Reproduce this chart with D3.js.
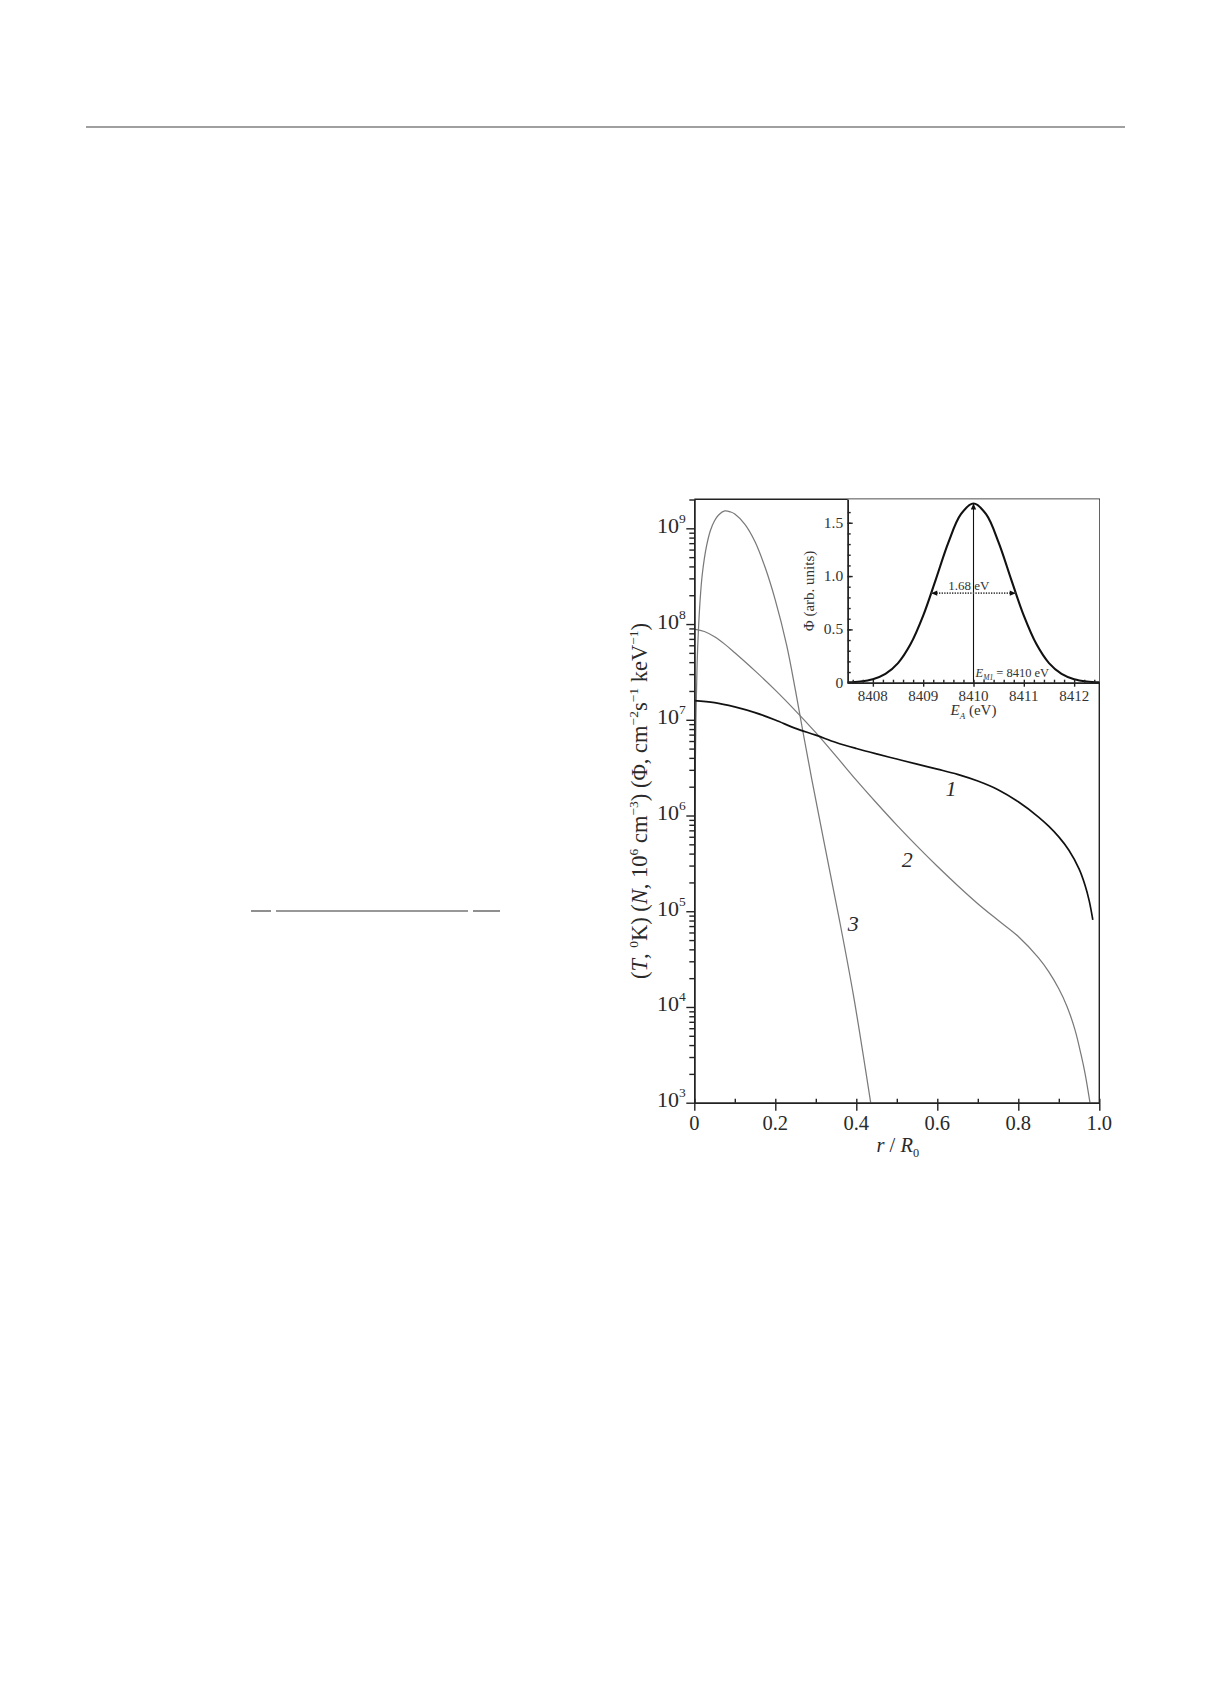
<!DOCTYPE html>
<html><head><meta charset="utf-8">
<script src="https://cdn.jsdelivr.net/npm/d3@7"></script>
<style>body{margin:0;background:#fff} svg{display:block}</style>
</head><body>
<svg id="c" width="1211" height="1683"></svg>
<script>
// ---------------- data ----------------
const r1 = [0,0.05,0.1,0.15,0.2,0.25,0.3,0.35,0.4,0.45,0.5,0.55,0.6,0.65,0.7,0.75,0.8,0.85,0.875,0.9,0.925,0.95,0.965,0.975,0.984];
const v1 = [1.585e7,1.514e7,1.365e7,1.189e7,9.95e6,8.13e6,6.92e6,5.79e6,5.01e6,4.40e6,3.89e6,3.44e6,3.05e6,2.69e6,2.29e6,1.86e6,1.39e6,9.64e5,7.74e5,5.98e5,4.34e5,2.77e5,1.86e5,1.29e5,8.13e4];

const r2 = [0,0.025,0.05,0.075,0.1,0.15,0.2,0.25,0.3,0.35,0.4,0.45,0.5,0.55,0.6,0.65,0.7,0.75,0.8,0.85,0.875,0.9,0.92,0.94,0.955,0.965,0.977];
const v2 = [8.85e7,8.36e7,7.36e7,6.17e7,5.01e7,3.24e7,2.04e7,1.24e7,7.33e6,4.17e6,2.34e6,1.35e6,7.94e5,4.79e5,2.95e5,1.86e5,1.20e5,8.05e4,5.45e4,3.26e4,2.34e4,1.55e4,1.02e4,5.77e3,3.17e3,2.0e3,1.0e3];

const r3 = [0.001,0.002,0.004,0.007,0.01,0.015,0.02,0.03,0.04,0.05,0.06,0.075,0.09,0.1,0.125,0.15,0.175,0.2,0.228,0.25,0.268,0.29,0.32,0.356,0.393,0.4355];
const v3 = [3.98e5,1.95e6,1.0e7,3.89e7,8.32e7,1.95e8,3.39e8,6.46e8,9.55e8,1.20e9,1.38e9,1.52e9,1.48e9,1.41e9,1.10e9,7.24e8,3.89e8,1.78e8,6.03e7,2.00e7,7.59e6,2.40e6,5.37e5,9.12e4,1.32e4,1.0e3];

const curveLabelText = ["1","2","3"];
const curveLabelR = [0.634,0.526,0.3926];
const curveLabelV = [1.89e6,3.47e5,7.36e4];

const xMajorTicks = [0,0.2,0.4,0.6,0.8,1.0];
const xTickLabels = ["0","0.2","0.4","0.6","0.8","1.0"];
const xMinorTicks = [0.1,0.3,0.5,0.7,0.9];
const yMajorTicks = [1e3,1e4,1e5,1e6,1e7,1e8,1e9];
const yTickExponents = ["3","4","5","6","7","8","9"];

// inset: spectrum
const insetE = [8407.5,8407.75,8408,8408.25,8408.5,8408.75,8409,8409.25,8409.5,8409.75,8410,8410.25,8410.5,8410.75,8411,8411.25,8411.5,8411.75,8412,8412.25,8412.5];
const insetPhi = [0.0036,0.0116,0.033,0.083,0.184,0.362,0.629,0.967,1.314,1.580,1.68,1.580,1.314,0.967,0.629,0.362,0.184,0.083,0.033,0.0116,0.0036];
const insetXTicks = [8408,8409,8410,8411,8412];
const insetXTickLabels = ["8408","8409","8410","8411","8412"];
const insetYTicks = [0,0.5,1.0,1.5];
const insetYTickLabels = ["0","0.5","1.0","1.5"];
const peakE = [8410];
const peakPhi = [1.68];
const fwhmE = [8409.16,8410.84];
const fwhmLevel = [0.84];

// ---------------- layout ----------------
const svg = d3.select("#c");
const FONT = "'Liberation Serif','Times New Roman',serif";
const M = {left:694.3, right:1099.3, top:499.3, bottom:1102.7};
const I = {left:847.7, right:1099.3, top:499.3, bottom:682.7};

const x = d3.scaleLinear().domain([0,1]).range([M.left, M.right]);
const y = d3.scaleLog().domain([1e3, 2.01e9]).range([M.bottom, M.top]);
const xi = d3.scaleLinear().domain([8407.5, 8412.5]).range([I.left, I.right]);
const yi = d3.scaleLinear().domain([0, 1.72]).range([I.bottom, I.top]);

// page decorations
svg.append("line").attr("x1",86).attr("x2",1125).attr("y1",127).attr("y2",127)
  .attr("stroke","#808080").attr("stroke-width",1.4);
[[251,271],[276,468],[473,500]].forEach(s=>{
  svg.append("line").attr("x1",s[0]).attr("x2",s[1]).attr("y1",911).attr("y2",911)
    .attr("stroke","#333").attr("stroke-width",1.1);
});

function rich(textSel, parts, base) {
  let shift = 0;
  parts.forEach(([t, s]) => {
    const ts = textSel.append("tspan").text(t);
    let target = 0;
    if (s === "sup") { ts.attr("font-size", base*0.6); target = -base*0.42; }
    else if (s === "sub" || s === "isub") { ts.attr("font-size", base*0.6); target = base*0.25; }
    if (s === "i" || s === "isub") ts.attr("font-style","italic");
    const dy = target - shift;
    if (Math.abs(dy) > 1e-6) ts.attr("dy", dy);
    shift = target;
  });
}

const defs = svg.append("defs");
defs.append("clipPath").attr("id","clipMain").append("rect")
  .attr("x",M.left).attr("y",M.top).attr("width",M.right-M.left).attr("height",M.bottom-M.top);
defs.append("marker").attr("id","ah").attr("viewBox","0 0 10 10").attr("refX",10).attr("refY",5)
  .attr("markerUnits","userSpaceOnUse").attr("markerWidth",7).attr("markerHeight",6)
  .attr("orient","auto-start-reverse")
  .append("path").attr("d","M0,0.5L10,5L0,9.5z").attr("fill","#111");

// ---------------- main curves ----------------
const line = d3.line().x(d=>x(d[0])).y(d=>y(d[1])).curve(d3.curveCatmullRom.alpha(0.5));
const gCurves = svg.append("g").attr("clip-path","url(#clipMain)");
gCurves.append("path").datum(d3.zip(r3,v3)).attr("d",line).attr("fill","none").attr("stroke","#7a7a7a").attr("stroke-width",1.25);
gCurves.append("path").datum(d3.zip(r2,v2)).attr("d",line).attr("fill","none").attr("stroke","#7a7a7a").attr("stroke-width",1.25);
gCurves.append("path").datum(d3.zip(r1,v1)).attr("d",line).attr("fill","none").attr("stroke","#111").attr("stroke-width",1.7);

svg.append("g").selectAll("text").data(curveLabelText).join("text")
  .attr("x",(d,i)=>x(curveLabelR[i])).attr("y",(d,i)=>y(curveLabelV[i]))
  .attr("dy","0.33em").attr("text-anchor","middle")
  .attr("font-family",FONT).attr("font-style","italic").attr("font-size",22).attr("fill","#2a2a2a")
  .text(d=>d);

// ---------------- main axes ----------------
function styleAxis(g){
  g.selectAll("path,line").attr("stroke","#222").attr("stroke-width",1.4);
  g.selectAll("text").remove();
}
const yMinor = [];
for (let d=3; d<=9; d++) for (let m=2; m<=9; m++) { const v=m*Math.pow(10,d); if (v<=2.01e9) yMinor.push(v); }
svg.append("g").attr("transform",`translate(${M.left},0)`)
  .call(d3.axisLeft(y).tickValues(yMinor).tickSize(5).tickSizeOuter(0).tickFormat(""))
  .call(styleAxis);
svg.append("g").attr("transform",`translate(${M.left},0)`)
  .call(d3.axisLeft(y).tickValues(yMajorTicks).tickSize(8).tickSizeOuter(0).tickFormat(""))
  .call(styleAxis);
svg.append("g").attr("transform",`translate(0,${M.bottom})`)
  .call(d3.axisBottom(x).tickValues(xMajorTicks).tickSize(8).tickSizeOuter(0).tickFormat(""))
  .call(styleAxis);
svg.append("g").attr("transform",`translate(0,${M.bottom})`)
  .call(d3.axisBottom(x).tickValues(xMajorTicks.concat(xMinorTicks)).tickSize(-4).tickSizeOuter(0).tickFormat(""))
  .call(styleAxis);
// frame top/right
svg.append("path").attr("d",`M${M.left},${M.top}H${M.right}V${M.bottom}`)
  .attr("fill","none").attr("stroke","#222").attr("stroke-width",1.4);

// y tick labels
const yl = svg.append("g").attr("font-family",FONT).attr("fill","#2a2a2a");
yMajorTicks.forEach((v,i)=>{
  const t = yl.append("text").attr("x",M.left-8.5).attr("y",y(v)+4.5).attr("text-anchor","end").attr("font-size",22);
  t.append("tspan").text("10");
  t.append("tspan").attr("font-size",13.5).attr("dy",-10).text(yTickExponents[i]);
});
// x tick labels
svg.append("g").selectAll("text").data(xTickLabels).join("text")
  .attr("x",(d,i)=>x(xMajorTicks[i])).attr("y",M.bottom+27.5).attr("text-anchor","middle")
  .attr("font-family",FONT).attr("font-size",20.5).attr("fill","#2a2a2a").text(d=>d);

// axis titles
const xt = svg.append("text").attr("x",(M.left+M.right)/2+1).attr("y",1152).attr("text-anchor","middle")
  .attr("font-family",FONT).attr("font-size",20.5).attr("fill","#2a2a2a");
rich(xt, [["r","i"],[" / ",""],["R","i"],["0","sub"]], 20.5);

const yt = svg.append("text").attr("transform",`translate(647,${(M.top+M.bottom)/2}) rotate(-90)`)
  .attr("text-anchor","middle").attr("font-family",FONT).attr("font-size",22.5).attr("fill","#2a2a2a");
rich(yt, [["(",""],["T","i"],[", ",""],["0","sup"],["K) (",""],["N","i"],[", 10",""],["6","sup"],[" cm",""],["\u22123","sup"],[") (\u03A6, cm",""],["\u22122","sup"],["s",""],["\u22121","sup"],[" keV",""],["\u22121","sup"],[")",""]], 22.5);

// ---------------- inset ----------------
svg.append("rect").attr("x",I.left).attr("y",I.top).attr("width",I.right-I.left).attr("height",I.bottom-I.top).attr("fill","#fff");

const insetLine = d3.line().x(d=>xi(d[0])).y(d=>yi(d[1])).curve(d3.curveCatmullRom.alpha(0.5));
svg.append("path").datum(d3.zip(insetE,insetPhi)).attr("d",insetLine)
  .attr("fill","none").attr("stroke","#111").attr("stroke-width",2.1);

// peak arrow
svg.append("line").attr("x1",xi(peakE[0])).attr("x2",xi(peakE[0])).attr("y1",yi(0)).attr("y2",yi(peakPhi[0]))
  .attr("stroke","#111").attr("stroke-width",1.1).attr("marker-end","url(#ah)");
// FWHM arrow
svg.append("line").attr("x1",xi(fwhmE[0])).attr("x2",xi(fwhmE[1])).attr("y1",yi(fwhmLevel[0])).attr("y2",yi(fwhmLevel[0]))
  .attr("stroke","#444").attr("stroke-width",1.6).attr("stroke-dasharray","1.3,1.3")
  .attr("marker-start","url(#ah)").attr("marker-end","url(#ah)");

// inset axes
const yiMinor = d3.range(0,17).map(k=>k/10);
const xiMinor = d3.range(0,26).map(k=>8407.6+k*0.2).filter(v=>v<8412.5);
svg.append("g").attr("transform",`translate(${I.left},0)`)
  .call(d3.axisLeft(yi).tickValues(yiMinor).tickSize(-3).tickSizeOuter(0).tickFormat("")).call(styleAxis);
svg.append("g").attr("transform",`translate(${I.left},0)`)
  .call(d3.axisLeft(yi).tickValues(insetYTicks).tickSize(-5).tickSizeOuter(0).tickFormat("")).call(styleAxis);
svg.append("g").attr("transform",`translate(0,${I.bottom})`)
  .call(d3.axisBottom(xi).tickValues(xiMinor).tickSize(-3).tickSizeOuter(0).tickFormat("")).call(styleAxis);
svg.append("g").attr("transform",`translate(0,${I.bottom})`)
  .call(d3.axisBottom(xi).tickValues(insetXTicks).tickSize(4).tickSizeOuter(0).tickFormat("")).call(styleAxis);

svg.append("g").selectAll("text").data(insetYTickLabels).join("text")
  .attr("x",I.left-4.5).attr("y",(d,i)=>yi(insetYTicks[i])+5).attr("text-anchor","end")
  .attr("font-family",FONT).attr("font-size",15.5).attr("fill","#333").text(d=>d);
svg.append("g").selectAll("text").data(insetXTickLabels).join("text")
  .attr("x",(d,i)=>xi(insetXTicks[i])).attr("y",I.bottom+18).attr("text-anchor","middle")
  .attr("font-family",FONT).attr("font-size",15).attr("fill","#333").text(d=>d);

const ixt = svg.append("text").attr("x",(I.left+I.right)/2).attr("y",715).attr("text-anchor","middle")
  .attr("font-family",FONT).attr("font-size",15).attr("fill","#333");
rich(ixt, [["E","i"],["A","isub"],[" (eV)",""]], 15);

svg.append("text").attr("transform",`translate(814,591) rotate(-90)`).attr("text-anchor","middle")
  .attr("font-family",FONT).attr("font-size",15).attr("fill","#333").text("\u03A6 (arb. units)");

// annotations
svg.append("text").attr("x",xi(8409.5)).attr("y",yi(fwhmLevel[0])-3).attr("text-anchor","start")
  .attr("font-family",FONT).attr("font-size",13).attr("fill","#333").text("1.68 eV");
const et = svg.append("text").attr("x",xi(peakE[0])+2).attr("y",677).attr("text-anchor","start")
  .attr("font-family",FONT).attr("font-size",12.5).attr("fill","#333");
rich(et, [["E","i"],["M1","isub"],[" = 8410 eV",""]], 12.5);
</script>
</body></html>
